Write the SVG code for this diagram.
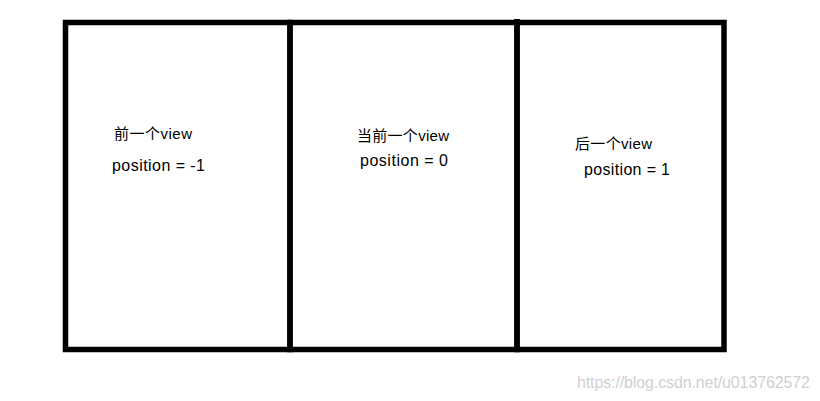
<svg xmlns="http://www.w3.org/2000/svg" width="820" height="401" viewBox="0 0 820 401">
<style>
.panel{fill:none;stroke:#000;stroke-width:5.5}
.t{font-family:"Liberation Sans","Noto Sans CJK SC",sans-serif;font-size:15px;fill:#000}
.p{font-family:"Liberation Sans",sans-serif;font-size:16px;fill:#000}
.wm{font-family:"Liberation Sans",sans-serif;font-size:16px;fill:#d0d0d0}
</style>
<rect width="820" height="401" fill="#fff"/>
<g id="prev">
<rect class="panel" x="65.5" y="22.5" width="224.5" height="327"/>
<text class="t" x="114" y="139" textLength="78">前一个view</text>
<text class="p" x="112" y="171" textLength="93">position = -1</text>
</g>
<g id="current">
<rect class="panel" x="290" y="22.5" width="227" height="327"/>
<text class="t" x="357" y="141" textLength="92">当前一个view</text>
<text class="p" x="360" y="166" textLength="88">position = 0</text>
</g>
<g id="next">
<rect class="panel" x="517" y="22.5" width="207" height="327"/>
<line x1="517" y1="19" x2="517" y2="24" stroke="#000" stroke-width="6"/>
<text class="t" x="575" y="149" textLength="77">后一个view</text>
<text class="p" x="584" y="175" textLength="86">position = 1</text>
</g>
<g id="connectors"></g>
<text class="wm" x="577" y="388" textLength="233">https://blog.csdn.net/u013762572</text>
</svg>
